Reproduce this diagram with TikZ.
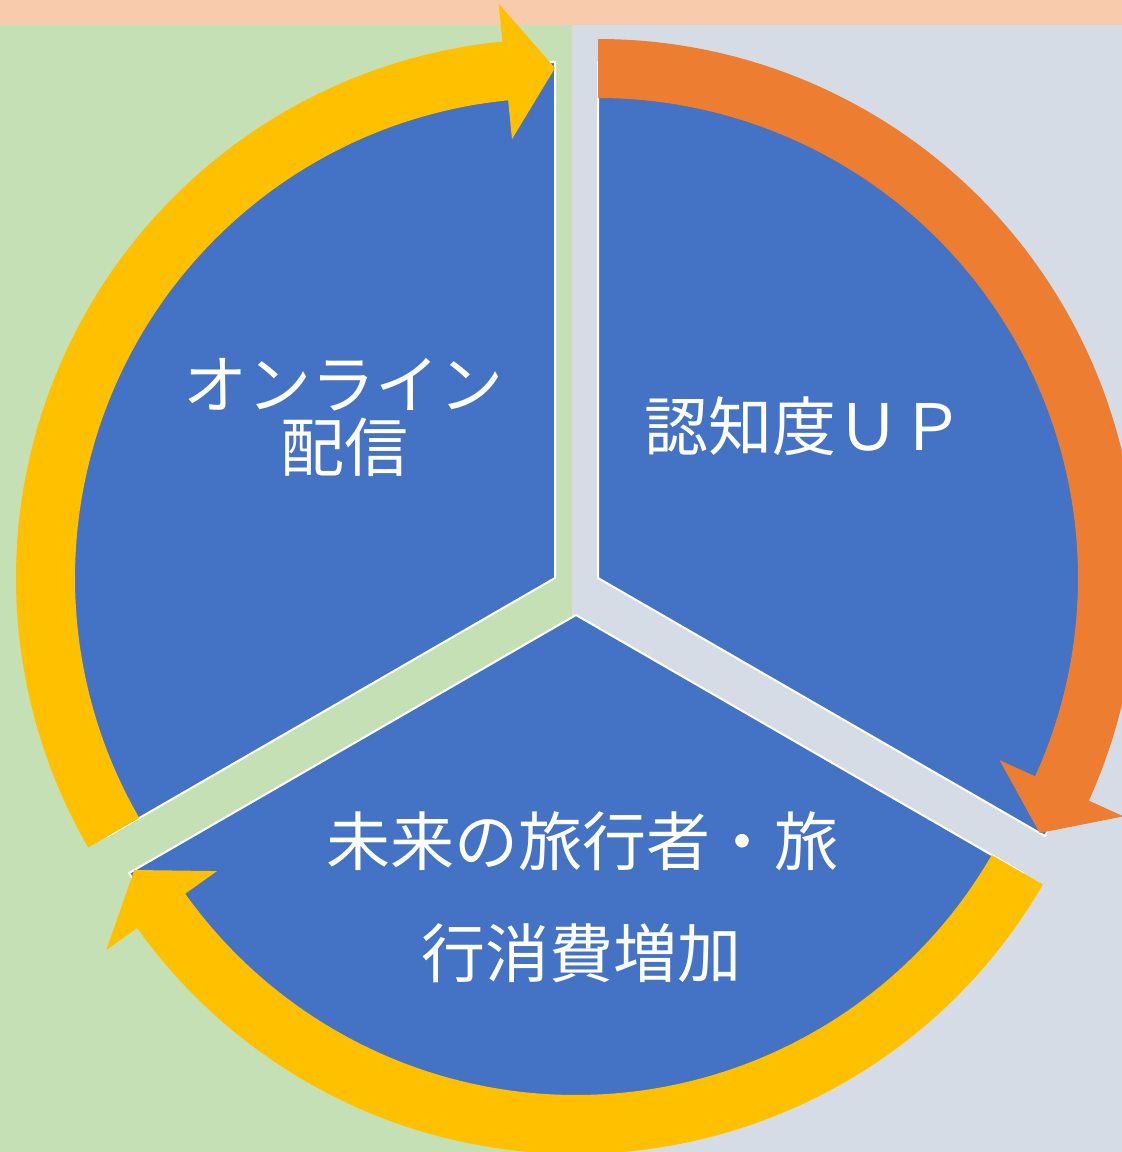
\documentclass[tikz,border=0pt]{standalone}
\usepackage{fontspec}
\newfontfamily\jpfont{Noto Sans CJK JP}
\definecolor{bgpeach}{HTML}{F8CBAD}
\definecolor{bggreen}{HTML}{C5E0B4}
\definecolor{bggray}{HTML}{D6DCE5}
\definecolor{pieblue}{HTML}{4472C4}
\definecolor{arryellow}{HTML}{FFC000}
\definecolor{arrorange}{HTML}{ED7D31}
\tikzset{
  sector/.style={fill=pieblue, draw=white, line width=2pt, line join=miter},
  label/.style={text=white, font=\jpfont\fontsize{64}{64}\selectfont, anchor=base, inner sep=0pt},
}
\begin{document}
\begin{tikzpicture}[x=1pt,y=1pt]
\useasboundingbox (0,0) rectangle (1122,-1152);
\clip (0,0) rectangle (1122,-1152);
% background
\fill[bggreen] (0,0) rectangle (572,-1152);
\fill[bggray] (572,0) rectangle (1122,-1152);
\fill[bgpeach] (0,0) rectangle (1122,-25);
% sectors
\begin{scope}[shift={(555pt,-578pt)}]
  \draw[sector] (0,0) -- (90:516pt) arc[start angle=90,end angle=210,radius=516pt] -- cycle;
\end{scope}
\begin{scope}[shift={(598pt,-578pt)}]
  \draw[sector] (0,0) -- (-30:516pt) arc[start angle=-30,end angle=90,radius=516pt] -- cycle;
\end{scope}
\begin{scope}[shift={(576pt,-615pt)}]
  \draw[sector] (0,0) -- (210:516pt) arc[start angle=210,end angle=330,radius=516pt] -- cycle;
\end{scope}
% arrows
\begin{scope}[shift={(555pt,-578pt)}]
  \fill[arryellow] (210:539pt) arc[start angle=210,end angle=95.6,radius=539pt]
    -- (95.6:577pt) -- (90:510pt) -- (95.6:441pt) -- (95.6:480pt)
    arc[start angle=95.6,end angle=210,radius=480pt] -- cycle;
\end{scope}
\begin{scope}[shift={(598pt,-578pt)}]
  \fill[arrorange] (90:539pt) arc[start angle=90,end angle=-24.4,radius=539pt]
    -- (-24.4:577pt) -- (-30:510pt) -- (-24.4:441pt) -- (-24.4:480pt)
    arc[start angle=-24.4,end angle=90,radius=480pt] -- cycle;
\end{scope}
\begin{scope}[shift={(576pt,-615pt)}]
  \fill[arryellow] (-30:539pt) arc[start angle=-30,end angle=-144.5,radius=539pt]
    -- (215.5:577pt) -- (210:510pt) -- (215.5:441pt) -- (215.5:480pt)
    arc[start angle=-144.5,end angle=-30,radius=480pt] -- cycle;
\end{scope}
% labels
\node[label] (online) at (343.5,-408) {オンライン};
\node[label] (haishin) at (344,-471) {配信};
\node[label] (ninchi) at (804,-450) {認知度ＵＰ};
\node[label] (mirai) at (582.5,-865) {未来の旅行者・旅};
\node[label] (shohi) at (581.5,-977) {行消費増加};
\end{tikzpicture}
\end{document}
